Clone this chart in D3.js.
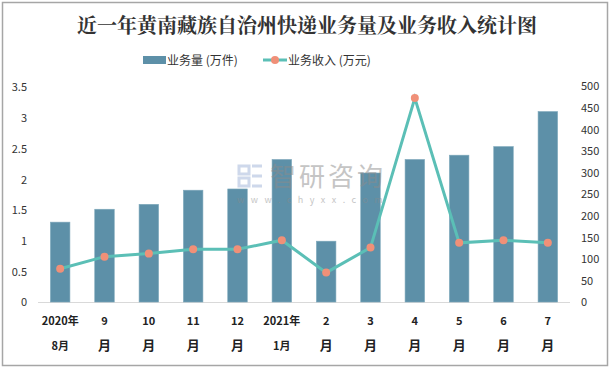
<!DOCTYPE html>
<html>
<head>
<meta charset="utf-8">
<script src="https://cdn.jsdelivr.net/npm/d3@7"></script>
<style>
  body { margin: 0; background: #fff; }
  svg text { font-family: "Noto Sans CJK SC", "Noto Sans", sans-serif; }
</style>
</head>
<body>
<div id="chart"></div>
<script>
// données
const months = ["2020年|8月", "9|月", "10|月", "11|月", "12|月", "2021年|1月", "2|月", "3|月", "4|月", "5|月", "6|月", "7|月"];
const volume = [1.30, 1.51, 1.59, 1.82, 1.84, 2.32, 0.99, 2.10, 2.32, 2.39, 2.53, 3.10];
const revenue = [77, 105, 112, 122, 122, 143, 68, 126, 472, 137, 143, 137];
const leftTicks = [0, 0.5, 1, 1.5, 2, 2.5, 3, 3.5];
const rightTicks = [0, 50, 100, 150, 200, 250, 300, 350, 400, 450, 500];

// constantes
const w = 615;
const h = 370;
const plotL = 38, plotR = 570, plotT = 87, plotB = 302;

const svg = d3.select("#chart")
    .append("svg")
    .attr("width", w)
    .attr("height", h);

// cadre
svg.append("rect")
    .attr("x", 2.5).attr("y", 2.5)
    .attr("width", 605).attr("height", 363)
    .attr("fill", "#fff")
    .attr("stroke", "#a6a6a6")
    .attr("stroke-width", 1.5);

// titre
svg.append("text")
    .attr("x", 307).attr("y", 33)
    .attr("text-anchor", "middle")
    .style("font-family", "'Noto Serif CJK SC', 'Noto Sans CJK SC', serif")
    .attr("font-size", 20)
    .attr("font-weight", "bold")
    .attr("fill", "#333")
    .text("近一年黄南藏族自治州快递业务量及业务收入统计图");

// échelles
const xScale = d3.scaleBand()
    .domain(months)
    .range([plotL, plotR])
    .paddingInner(0.56)
    .paddingOuter(0.28);

const yLeft = d3.scaleLinear().domain([0, 3.5]).range([plotB, plotT]);
const yRight = d3.scaleLinear().domain([0, 500]).range([plotB, plotT - 1]);

// axes
const axeL = d3.axisLeft(yLeft).tickValues(leftTicks).tickFormat(d => String(d)).tickSize(0).tickPadding(0);
const axeR = d3.axisRight(yRight).tickValues(rightTicks).tickFormat(d => String(d)).tickSize(0).tickPadding(0);

svg.append("g")
    .attr("transform", "translate(27,0)")
    .call(axeL)
    .call(g => g.select(".domain").remove())
    .call(g => g.selectAll("text").attr("font-size", 11).attr("fill", "#333").attr("dy", "0.35em"));

svg.append("g")
    .attr("transform", "translate(581,0)")
    .call(axeR)
    .call(g => g.select(".domain").remove())
    .call(g => g.selectAll("text").attr("font-size", 11).attr("fill", "#333").attr("dy", "0.35em"));

// ligne de base
svg.append("line")
    .attr("x1", plotL).attr("x2", plotR)
    .attr("y1", plotB + 0.5).attr("y2", plotB + 0.5)
    .attr("stroke", "#d9d9d9");

// barres
svg.selectAll("rect.bar")
    .data(volume)
    .enter()
    .append("rect")
    .attr("class", "bar")
    .attr("x", (d, i) => xScale(months[i]))
    .attr("y", d => yLeft(d))
    .attr("width", xScale.bandwidth())
    .attr("height", d => plotB - yLeft(d))
    .attr("fill", "#5d90a8")
    .attr("stroke", "#7ea8bb")
    .attr("stroke-width", 0.6);

// filigrane
const wm = svg.append("g").attr("opacity", 0.5);
wm.append("text")
    .attr("x", 270).attr("y", 186)
    .attr("font-size", 26)
    .attr("fill", "#8c8c8c")
    .attr("letter-spacing", 3)
    .text("智研咨询");
wm.append("text")
    .attr("x", 237).attr("y", 203)
    .attr("font-size", 9)
    .attr("fill", "#8c8c8c")
    .attr("letter-spacing", 6.5)
    .text("www.chyxx.com");
wm.append("path")
    .attr("d", "M239,166 h10 v8 h-10 z M239,178 h10 v8 h-10 z M252,166 h10 M252,176 h10 M252,186 h10")
    .attr("fill", "none").attr("stroke", "#9fb3d8").attr("stroke-width", 3);

// ligne
const cx = i => xScale(months[i]) + xScale.bandwidth() / 2;
const line = d3.line()
    .x((d, i) => cx(i))
    .y(d => yRight(d));

svg.append("path")
    .datum(revenue)
    .attr("d", line)
    .attr("fill", "none")
    .attr("stroke", "#5bbfb6")
    .attr("stroke-width", 3);

svg.selectAll("circle.pt")
    .data(revenue)
    .enter()
    .append("circle")
    .attr("class", "pt")
    .attr("cx", (d, i) => cx(i))
    .attr("cy", d => yRight(d))
    .attr("r", 4)
    .attr("fill", "#f09078");

// étiquettes x
const xl = svg.append("g");
months.forEach((m, i) => {
    const parts = m.split("|");
    xl.append("text")
        .attr("x", cx(i)).attr("y", 325)
        .attr("text-anchor", "middle")
        .attr("font-size", 11)
        .attr("font-weight", "bold")
        .attr("fill", "#222")
        .text(parts[0]);
    xl.append("text")
        .attr("x", cx(i)).attr("y", 350)
        .attr("text-anchor", "middle")
        .attr("font-size", parts[0].length > 2 ? 11 : 13)
        .attr("font-weight", "bold")
        .attr("fill", "#222")
        .text(parts[1]);
});

// légende
svg.append("rect")
    .attr("x", 143).attr("y", 56).attr("width", 23).attr("height", 8)
    .attr("fill", "#5d90a8");
svg.append("text")
    .attr("x", 167).attr("y", 64.5)
    .attr("font-size", 12).attr("fill", "#333")
    .text("业务量 (万件)");
svg.append("line")
    .attr("x1", 263).attr("x2", 287).attr("y1", 60).attr("y2", 60)
    .attr("stroke", "#5bbfb6").attr("stroke-width", 3);
svg.append("circle")
    .attr("cx", 275).attr("cy", 60).attr("r", 4)
    .attr("fill", "#f09078");
svg.append("text")
    .attr("x", 288).attr("y", 64.5)
    .attr("font-size", 12).attr("fill", "#333")
    .text("业务收入 (万元)");
</script>
</body>
</html>
